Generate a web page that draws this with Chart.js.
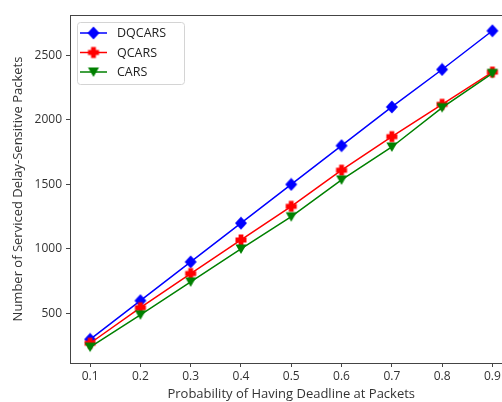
<!DOCTYPE html>
<html>
<head>
<meta charset="utf-8">
<script src="https://cdn.jsdelivr.net/npm/chart.js@4"></script>
<style>
    html, body { margin: 0; padding: 0; background: #fff; overflow: hidden; }
    #wrap { width: 520px; height: 402px; }
</style>
</head>
<body>
<div id="wrap"><canvas id="chart"></canvas></div>
<script>
const probabilities = [0.1, 0.2, 0.3, 0.4, 0.5, 0.6, 0.7, 0.8, 0.9];
const dqcars = [300, 600, 900, 1200, 1500, 1800, 2100, 2390, 2690];
const qcars = [270, 545, 810, 1070, 1330, 1610, 1870, 2120, 2370];
const cars = [240, 490, 745, 1000, 1250, 1535, 1790, 2095, 2360];
const xTicks = [0.1, 0.2, 0.3, 0.4, 0.5, 0.6, 0.7, 0.8, 0.9];
const yTicks = [500, 1000, 1500, 2000, 2500];

const FONT = '"Open Sans", "DejaVu Sans", sans-serif';
const AXIS_COLOR = '#444';

// markers drawn once onto small canvases, used as pointStyle and in the legend
function makeMarker(shape, color) {
    const c = document.createElement('canvas');
    c.width = 14;
    c.height = 14;
    const ctx = c.getContext('2d');
    ctx.fillStyle = color;
    ctx.beginPath();
    if (shape === 'diamond') {
        ctx.moveTo(7, 0.5);
        ctx.lineTo(13, 7);
        ctx.lineTo(7, 13.5);
        ctx.lineTo(1, 7);
    } else if (shape === 'plus') {
        const a = 2.4, b = 5.5;
        ctx.moveTo(7 - a, 7 - b);
        ctx.lineTo(7 + a, 7 - b);
        ctx.lineTo(7 + a, 7 - a);
        ctx.lineTo(7 + b, 7 - a);
        ctx.lineTo(7 + b, 7 + a);
        ctx.lineTo(7 + a, 7 + a);
        ctx.lineTo(7 + a, 7 + b);
        ctx.lineTo(7 - a, 7 + b);
        ctx.lineTo(7 - a, 7 + a);
        ctx.lineTo(7 - b, 7 + a);
        ctx.lineTo(7 - b, 7 - a);
        ctx.lineTo(7 - a, 7 - a);
    } else {
        ctx.moveTo(1.5, 2.5);
        ctx.lineTo(12.5, 2.5);
        ctx.lineTo(7, 12);
    }
    ctx.closePath();
    ctx.fill();
    return c;
}

const series = [
    { label: 'DQCARS', data: dqcars, color: '#0000ff', marker: makeMarker('diamond', '#0000ff'), order: 2 },
    { label: 'QCARS', data: qcars, color: '#ff0000', marker: makeMarker('plus', '#ff0000'), order: 1 },
    { label: 'CARS', data: cars, color: '#008000', marker: makeMarker('triangle', '#008000'), order: 0 }
];

// full box round the plot area, like the reference
const framePlugin = {
    id: 'frame',
    beforeDatasetsDraw(chart) {
        const { ctx, chartArea: a } = chart;
        ctx.save();
        ctx.strokeStyle = AXIS_COLOR;
        ctx.lineWidth = 1;
        ctx.strokeRect(a.left + 0.5, a.top + 0.5, a.right - a.left, a.bottom - a.top);
        ctx.restore();
    }
};

// legend box inside the plot, top left
const insideLegend = {
    id: 'insideLegend',
    afterDatasetsDraw(chart) {
        const { ctx, chartArea: a } = chart;
        const x = a.left + 7, y = a.top + 7;
        ctx.save();
        ctx.fillStyle = 'rgba(255,255,255,0.85)';
        ctx.strokeStyle = '#d4d4d4';
        ctx.lineWidth = 1;
        ctx.beginPath();
        ctx.roundRect(x + 0.5, y + 0.5, 107, 62, 3);
        ctx.fill();
        ctx.stroke();
        ctx.font = '12.5px ' + FONT;
        ctx.textBaseline = 'middle';
        series.forEach((s, i) => {
            const rowY = y + 11 + i * 19.5;
            ctx.strokeStyle = s.color;
            ctx.lineWidth = 1.5;
            ctx.beginPath();
            ctx.moveTo(x + 3, rowY);
            ctx.lineTo(x + 30, rowY);
            ctx.stroke();
            ctx.drawImage(s.marker, x + 16.5 - 7, rowY - 7);
            ctx.fillStyle = '#222';
            ctx.fillText(s.label, x + 40, rowY + 0.5);
        });
        ctx.restore();
    }
};

new Chart(document.getElementById('chart'), {
    type: 'line',
    data: {
        datasets: series.map(s => ({
            label: s.label,
            data: probabilities.map((p, i) => ({ x: p, y: s.data[i] })),
            borderColor: s.color,
            backgroundColor: s.color,
            borderWidth: 1.5,
            pointStyle: s.marker,
            pointRadius: 6,
            pointHoverRadius: 6,
            order: s.order,
            tension: 0
        }))
    },
    options: {
        responsive: true,
        maintainAspectRatio: false,
        animation: false,
        layout: { padding: { left: 6, top: 15, right: 7, bottom: 0 } },
        plugins: {
            legend: { display: false },
            tooltip: { enabled: false }
        },
        scales: {
            x: {
                type: 'linear',
                min: 0.06,
                max: 0.94,
                afterBuildTicks: scale => { scale.ticks = xTicks.map(v => ({ value: v })); },
                afterFit: scale => { scale.height = 39; },
                grid: { drawOnChartArea: false, drawTicks: true, tickLength: 4, color: AXIS_COLOR },
                border: { display: true, color: AXIS_COLOR },
                ticks: {
                    padding: 2,
                    color: '#333',
                    font: { family: FONT, size: 12 },
                    maxRotation: 0,
                    autoSkip: false,
                    callback: v => v.toFixed(1)
                },
                title: {
                    display: true,
                    text: 'Probability of Having Deadline at Packets',
                    color: '#333',
                    font: { family: FONT, size: 13 },
                    padding: { top: 0, bottom: 0 }
                }
            },
            y: {
                min: 117,
                max: 2812,
                afterBuildTicks: scale => { scale.ticks = yTicks.map(v => ({ value: v })); },
                afterFit: scale => { scale.width = 64; },
                grid: { drawOnChartArea: false, drawTicks: true, tickLength: 4, color: AXIS_COLOR },
                border: { display: true, color: AXIS_COLOR },
                ticks: {
                    padding: 4,
                    color: '#333',
                    font: { family: FONT, size: 12 },
                    autoSkip: false,
                    callback: v => String(v)
                },
                title: {
                    display: true,
                    text: 'Number of Serviced Delay-Sensitive Packets',
                    color: '#333',
                    font: { family: FONT, size: 13 },
                    padding: { top: 4, bottom: 0 }
                }
            }
        }
    },
    plugins: [framePlugin, insideLegend]
});
</script>
</body>
</html>
